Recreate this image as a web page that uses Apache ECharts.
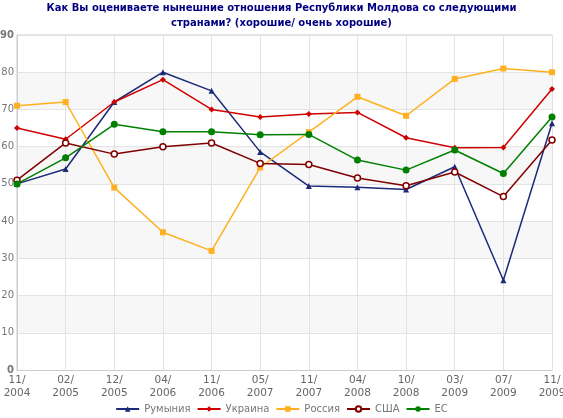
<!DOCTYPE html>
<html>
<head>
<meta charset="utf-8">
<script src="https://cdn.jsdelivr.net/npm/echarts@6/dist/echarts.min.js"></script>
<style>html,body{margin:0;padding:0;background:#fff;}#c{width:563px;height:418px;}</style>
</head>
<body>
<div id="c"></div>
<script>
var categories = ['11/\n2004','02/\n2005','12/\n2005','04/\n2006','11/\n2006','05/\n2007','11/\n2007','04/\n2008','10/\n2008','03/\n2009','07/\n2009','11/\n2009'];
var romania = [50, 54, 72, 80, 75, 58.6, 49.4, 49.1, 48.5, 54.6, 24.1, 66.3];
var ukraine = [65, 62, 72, 78, 70, 68.0, 68.8, 69.2, 62.4, 59.7, 59.8, 75.5];
var russia  = [71, 72, 49, 37, 32, 54.4, 63.9, 73.4, 68.3, 78.2, 81.0, 80.0];
var usa     = [51, 61, 58, 60, 61, 55.5, 55.2, 51.6, 49.5, 53.2, 46.6, 61.8];
var eu      = [50, 57, 66, 64, 64, 63.2, 63.3, 56.4, 53.7, 59.1, 52.8, 68.0];
var seriesNames = ['Румыния','Украина','Россия','США','ЕС'];
var titleText = 'Как Вы оцениваете нынешние отношения Республики Молдова со следующими\nстранами? (хорошие/ очень хорошие)';

var chart = echarts.init(document.getElementById('c'));
function mk(name, data, color, symbol, size, extra) {
  var s = {
    name: name, type: 'line', data: data, symbol: symbol, symbolSize: size,
    lineStyle: { color: color, width: 1.5 },
    itemStyle: { color: color },
    showAllSymbol: true
  };
  if (extra) { for (var k in extra) s[k] = extra[k]; }
  return s;
}
chart.setOption({
  animation: false,
  backgroundColor: '#fff',
  title: {
    text: titleText, left: 'center', top: 1, padding: [0, 0, 0, 0],
    textStyle: { fontFamily: 'DejaVu Sans', fontSize: 10, fontWeight: 'bold', color: '#000080', lineHeight: 15 }
  },
  legend: {
    top: 404, left: 'center', itemWidth: 23, itemHeight: 7, itemGap: 6, padding: 0,
    textStyle: { fontFamily: 'DejaVu Sans', fontSize: 10, color: '#777' },
    data: seriesNames
  },
  grid: { left: 17, right: 11, top: 35, bottom: 48, outerBoundsMode: 'none', containLabel: false, show: true, borderColor: '#ccc', borderWidth: 1, backgroundColor: 'transparent' },
  xAxis: {
    type: 'category', data: categories, boundaryGap: false,
    axisLine: { lineStyle: { color: '#ccc' } },
    axisTick: { show: false },
    axisLabel: { fontFamily: 'DejaVu Sans', fontSize: 10.5, color: '#666', lineHeight: 13, margin: 4, interval: 0, hideOverlap: false },
    splitLine: { show: true, lineStyle: { color: '#e3e3e3' } }
  },
  yAxis: {
    type: 'value', min: 0, max: 90, interval: 10,
    axisLine: { show: true, lineStyle: { color: '#ccc' } },
    axisTick: { show: false },
    axisLabel: {
      fontFamily: 'DejaVu Sans', fontSize: 10, color: '#777', margin: 3,
      formatter: function (v) { return (v === 0 || v === 90) ? '{b|' + v + '}' : String(v); },
      rich: { b: { fontFamily: 'DejaVu Sans', fontSize: 10, fontWeight: 'bold', color: '#777' } }
    },
    splitLine: { show: true, lineStyle: { color: '#e3e3e3' } },
    splitArea: { show: true, areaStyle: { color: ['#ffffff', '#f7f7f7'] } }
  },
  series: [
    mk(seriesNames[0], romania, '#1c2a78', 'triangle', 6),
    mk(seriesNames[1], ukraine, '#d00000', 'diamond', 6),
    mk(seriesNames[2], russia, '#ffb020', 'rect', 6),
    mk(seriesNames[3], usa, '#800000', 'circle', 6, { itemStyle: { color: '#fff', borderColor: '#800000', borderWidth: 1.5 } }),
    mk(seriesNames[4], eu, '#008000', 'circle', 7)
  ]
});
</script>
</body>
</html>
